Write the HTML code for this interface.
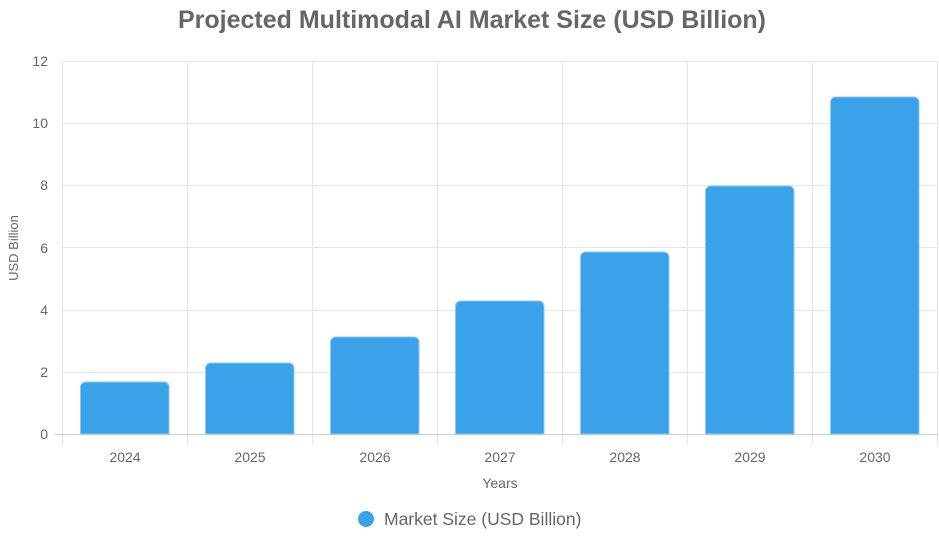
<!DOCTYPE html>
<html><head><meta charset="utf-8"><style>
body{margin:0;background:#fff;}
svg{display:block;font-family:"Liberation Sans",Arial,sans-serif;}
</style></head><body>
<svg width="939" height="542" viewBox="0 0 939 542">
<text x="472" y="28" text-anchor="middle" font-size="25" font-weight="bold" fill="#666">Projected Multimodal AI Market Size (USD Billion)</text>
<g stroke="#e5e5e5" stroke-width="1">
<line x1="62" y1="61.5" x2="938" y2="61.5"/>
<line x1="62" y1="123.5" x2="938" y2="123.5"/>
<line x1="62" y1="185.5" x2="938" y2="185.5"/>
<line x1="62" y1="247.5" x2="938" y2="247.5"/>
<line x1="62" y1="310.5" x2="938" y2="310.5"/>
<line x1="62" y1="372.5" x2="938" y2="372.5"/>
<line x1="62.5" y1="61" x2="62.5" y2="445"/>
<line x1="187.5" y1="61" x2="187.5" y2="445"/>
<line x1="312.5" y1="61" x2="312.5" y2="445"/>
<line x1="437.5" y1="61" x2="437.5" y2="445"/>
<line x1="562.5" y1="61" x2="562.5" y2="445"/>
<line x1="687.5" y1="61" x2="687.5" y2="445"/>
<line x1="812.5" y1="61" x2="812.5" y2="445"/>
<line x1="937.5" y1="61" x2="937.5" y2="445"/>
<line x1="55" y1="434.5" x2="938" y2="434.5" stroke="#ccc"/>
</g>
<g font-size="14" fill="#666" text-anchor="end">
<text x="48" y="66">12</text><text x="48" y="128">10</text><text x="48" y="190">8</text>
<text x="48" y="253">6</text><text x="48" y="315">4</text><text x="48" y="377">2</text><text x="48" y="439">0</text>
</g>
<text transform="translate(18,248) rotate(-90)" text-anchor="middle" font-size="13" fill="#666">USD Billion</text>
<g fill="#39a2e9" stroke="#8ccaf3" stroke-width="1">
<path d="M80.5 434V387a5 5 0 0 1 5-5H164a5 5 0 0 1 5 5V434Z"/>
<path d="M205.5 434V368a5 5 0 0 1 5-5H289a5 5 0 0 1 5 5V434Z"/>
<path d="M330.5 434V342a5 5 0 0 1 5-5H414a5 5 0 0 1 5 5V434Z"/>
<path d="M455.5 434V306a5 5 0 0 1 5-5H539a5 5 0 0 1 5 5V434Z"/>
<path d="M580.5 434V257a5 5 0 0 1 5-5H664a5 5 0 0 1 5 5V434Z"/>
<path d="M705.5 434V191a5 5 0 0 1 5-5H789a5 5 0 0 1 5 5V434Z"/>
<path d="M830.5 434V102a5 5 0 0 1 5-5H914a5 5 0 0 1 5 5V434Z"/>
</g>
<g font-size="14" fill="#666" text-anchor="middle">
<text x="125" y="462">2024</text><text x="250" y="462">2025</text><text x="375" y="462">2026</text>
<text x="500" y="462">2027</text><text x="625" y="462">2028</text><text x="750" y="462">2029</text><text x="875" y="462">2030</text>
</g>
<text x="500" y="488" text-anchor="middle" font-size="14" fill="#666">Years</text>
<circle cx="366" cy="519" r="8" fill="#39a2e9"/>
<text x="384" y="525" font-size="17.5" fill="#666">Market Size (USD Billion)</text>
</svg>
</body></html>
